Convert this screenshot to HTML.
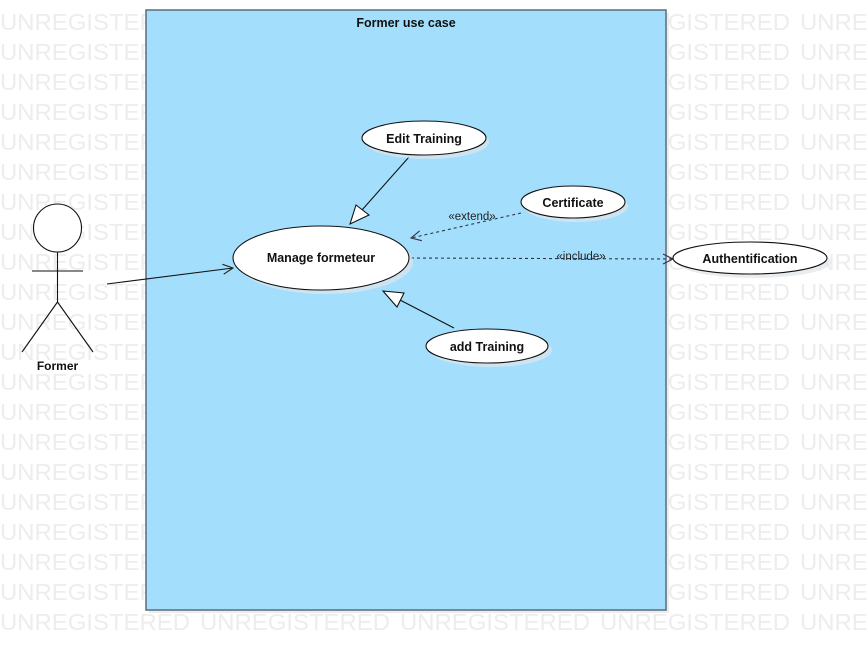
<!DOCTYPE html>
<html><head><meta charset="utf-8"><style>
html,body{margin:0;padding:0;background:#fff;width:867px;height:650px;overflow:hidden}
svg{display:block;font-family:"Liberation Sans",Arial,sans-serif}
</style></head><body>
<svg width="867" height="650" viewBox="0 0 867 650" xmlns="http://www.w3.org/2000/svg">
<defs>
<marker id="open" viewBox="0 0 12 12" refX="11" refY="6" markerWidth="12" markerHeight="12" markerUnits="userSpaceOnUse" orient="auto"><path d="M1,1 L11,6 L1,11" fill="none" stroke="#222" stroke-width="1.1"/></marker>
<marker id="opend" viewBox="0 0 12 12" refX="11" refY="6" markerWidth="12" markerHeight="12" markerUnits="userSpaceOnUse" orient="auto"><path d="M1,1 L11,6 L1,11" fill="none" stroke="#334" stroke-width="1.1"/></marker>
<g id="row" fill="#ededed" font-size="23.5">
<text x="0" y="0" textLength="190" lengthAdjust="spacingAndGlyphs">UNREGISTERED</text>
<text x="200" y="0" textLength="190" lengthAdjust="spacingAndGlyphs">UNREGISTERED</text>
<text x="400" y="0" textLength="190" lengthAdjust="spacingAndGlyphs">UNREGISTERED</text>
<text x="600" y="0" textLength="190" lengthAdjust="spacingAndGlyphs">UNREGISTERED</text>
<text x="800" y="0" textLength="190" lengthAdjust="spacingAndGlyphs">UNREGISTERED</text>
</g>
</defs>
<use href="#row" y="30"/><use href="#row" y="60"/><use href="#row" y="90"/><use href="#row" y="120"/>
<use href="#row" y="150"/><use href="#row" y="180"/><use href="#row" y="210"/><use href="#row" y="240"/>
<use href="#row" y="270"/><use href="#row" y="300"/><use href="#row" y="330"/><use href="#row" y="360"/>
<use href="#row" y="390"/><use href="#row" y="420"/><use href="#row" y="450"/><use href="#row" y="480"/>
<use href="#row" y="510"/><use href="#row" y="540"/><use href="#row" y="570"/><use href="#row" y="600"/>
<use href="#row" y="630"/>
<rect x="149" y="13" width="520" height="600" fill="#ececec"/>
<rect x="146" y="10" width="520" height="600" fill="#a3dffd" stroke="#5a6b7b" stroke-width="1.5"/>
<text x="406" y="27" text-anchor="middle" font-size="12.5" font-weight="bold" fill="#111">Former use case</text>

<g stroke="#111" stroke-width="1.1" fill="none">
<circle cx="57.5" cy="228" r="24" fill="#fff"/>
<line x1="57.5" y1="252" x2="57.5" y2="302"/>
<line x1="32" y1="271" x2="83" y2="271"/>
<line x1="57.5" y1="302" x2="22" y2="352"/>
<line x1="57.5" y1="302" x2="93" y2="352"/>
</g>
<text x="57.5" y="370" text-anchor="middle" font-size="12" font-weight="bold" fill="#111">Former</text>

<line x1="107" y1="284" x2="233" y2="268" stroke="#111" stroke-width="1.1" marker-end="url(#open)"/>
<line x1="409" y1="157" x2="362" y2="210" stroke="#111" stroke-width="1.1"/>
<polygon points="350,224 356,205 369,215" fill="#fff" stroke="#111" stroke-width="1.1"/>
<line x1="454" y1="328" x2="400" y2="300" stroke="#111" stroke-width="1.1"/>
<polygon points="383,291 404,293 397,307" fill="#fff" stroke="#111" stroke-width="1.1"/>
<line x1="521" y1="213" x2="411" y2="238" stroke="#334" stroke-width="1.1" stroke-dasharray="3,3" marker-end="url(#opend)"/>
<line x1="411" y1="258" x2="673" y2="259" stroke="#334" stroke-width="1.1" stroke-dasharray="3,3" marker-end="url(#opend)"/>
<text x="472" y="220" text-anchor="middle" font-size="11.5" fill="#222">«extend»</text>
<text x="581" y="260" text-anchor="middle" font-size="11.5" fill="#222">«include»</text>

<g fill="#dfe6ea" opacity="0.7">
<ellipse cx="427" cy="142" rx="62" ry="17"/>
<ellipse cx="576" cy="206" rx="52" ry="16"/>
<ellipse cx="325" cy="262" rx="88" ry="32"/>
<ellipse cx="754" cy="262" rx="77" ry="16"/>
<ellipse cx="491" cy="350" rx="61" ry="17"/>
</g>
<g fill="#fff" stroke="#111" stroke-width="1.1">
<ellipse cx="424" cy="138" rx="62" ry="17"/>
<ellipse cx="573" cy="202" rx="52" ry="16"/>
<ellipse cx="321" cy="258" rx="88" ry="32"/>
<ellipse cx="750" cy="258" rx="77" ry="16"/>
<ellipse cx="487" cy="346" rx="61" ry="17"/>
</g>
<g font-size="12.5" font-weight="bold" fill="#111" text-anchor="middle">
<text x="424" y="143">Edit Training</text>
<text x="573" y="207">Certificate</text>
<text x="321" y="262">Manage formeteur</text>
<text x="750" y="263">Authentification</text>
<text x="487" y="351">add Training</text>
</g>
</svg>
</body></html>
